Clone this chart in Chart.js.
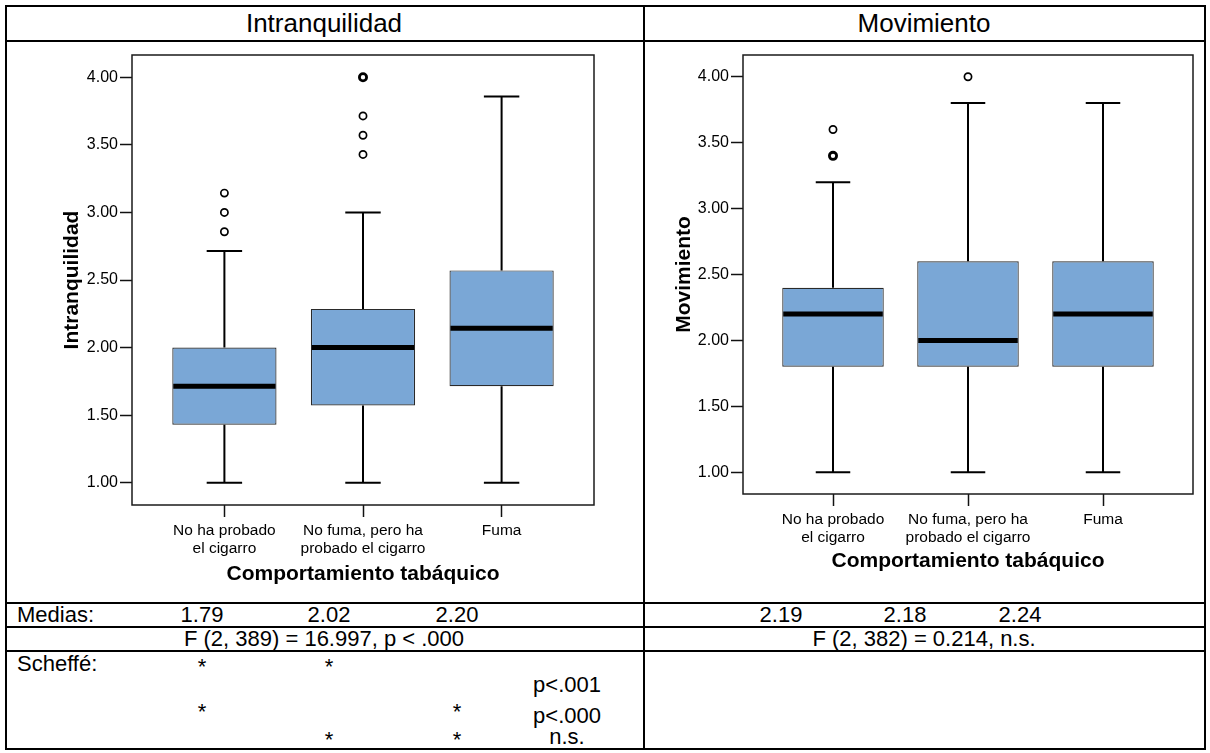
<!DOCTYPE html>
<html lang="es">
<head>
<meta charset="utf-8">
<title>Intranquilidad y Movimiento según comportamiento tabáquico</title>
<script src="https://cdn.jsdelivr.net/npm/chart.js@4.4.1/dist/chart.umd.min.js"></script>
<style>
  html, body { margin: 0; padding: 0; background: #fff; }
  #page { position: relative; width: 1210px; height: 753px; overflow: hidden;
          font-family: 'Liberation Sans', Arial, Helvetica, sans-serif; color: #000; }
  .hl { position: absolute; height: 2px; background: #000; }
  .vl { position: absolute; width: 2px; background: #000; }
  .t  { position: absolute; white-space: nowrap; line-height: 1; transform: translate(-50%, -50%); }
  .tl { position: absolute; white-space: nowrap; line-height: 1; transform: translateY(-50%); }
  canvas { position: absolute; }
</style>
</head>
<body>
<div id="page">
  <canvas id="chartIntra" width="636" height="558" style="left:7px;top:43px;width:636px;height:558px"></canvas>
  <canvas id="chartMov" width="557" height="558" style="left:646px;top:43px;width:557px;height:558px"></canvas>
</div>
<script>
// ---- data ----
const categories = [['No ha probado', 'el cigarro'], ['No fuma, pero ha', 'probado el cigarro'], ['Fuma']];
const yTicks = [1.00, 1.50, 2.00, 2.50, 3.00, 3.50, 4.00];

// Intranquilidad (box plot summaries per group)
const intraMin     = [1.000, 1.000, 1.000];
const intraQ1      = [1.429, 1.571, 1.714];
const intraMedian  = [1.714, 2.000, 2.143];
const intraQ3      = [2.000, 2.286, 2.571];
const intraMax     = [2.714, 3.000, 3.857];
const intraOutliers = [[2.857, 3.000, 3.143], [3.429, 3.571, 3.714, 4.000, 4.000], []];

// Movimiento
const movMin     = [1.0, 1.0, 1.0];
const movQ1      = [1.8, 1.8, 1.8];
const movMedian  = [2.2, 2.0, 2.2];
const movQ3      = [2.4, 2.6, 2.6];
const movMax     = [3.2, 3.8, 3.8];
const movOutliers = [[3.4, 3.4, 3.6], [4.0], []];

// Summary rows
const intraMeans = ['1.79', '2.02', '2.20'];
const movMeans   = ['2.19', '2.18', '2.24'];
const intraAnova = 'F (2, 389) = 16.997, p < .000';
const movAnova   = 'F (2, 382) = 0.214, n.s.';
const scheffeRows = [
  { marks: [1, 1, 0], p: 'p<.001' },
  { marks: [1, 0, 1], p: 'p<.000' },
  { marks: [0, 1, 1], p: 'n.s.' }
];

// ---- table frame and text ----
const page = document.getElementById('page');
function add(cls, css, text) {
  const d = document.createElement('div');
  d.className = cls;
  Object.assign(d.style, css);
  if (text !== undefined) d.textContent = text;
  page.appendChild(d);
  return d;
}
// horizontal rules
[5, 40, 602, 626, 650, 748].forEach(y => add('hl', { left: '5px', top: y + 'px', width: '1201px' }));
// vertical rules
[5, 643, 1204].forEach(x => add('vl', { left: x + 'px', top: '5px', height: '745px' }));

add('t', { left: '324px', top: '23px', fontSize: '26px' }, 'Intranquilidad');
add('t', { left: '924px', top: '23px', fontSize: '26px' }, 'Movimiento');

const colLeft  = [202, 329, 457];
const colRight = [781, 905, 1020];
const rowFont = '22px';
add('tl', { left: '17px', top: '615px', fontSize: rowFont }, 'Medias:');
intraMeans.forEach((m, i) => add('t', { left: colLeft[i] + 'px', top: '615px', fontSize: rowFont }, m));
movMeans.forEach((m, i) => add('t', { left: colRight[i] + 'px', top: '615px', fontSize: rowFont }, m));
add('t', { left: '324px', top: '639px', fontSize: rowFont }, intraAnova);
add('t', { left: '924px', top: '639px', fontSize: rowFont }, movAnova);

add('tl', { left: '17px', top: '664px', fontSize: rowFont }, 'Scheffé:');
const starY = [667, 712, 740];
const pY    = [685, 716, 737];
scheffeRows.forEach((r, k) => {
  r.marks.forEach((m, i) => {
    if (m) add('t', { left: colLeft[i] + 'px', top: starY[k] + 'px', fontSize: rowFont }, '*');
  });
  add('t', { left: '567px', top: pY[k] + 'px', fontSize: rowFont }, r.p);
});

// ---- charts ----
Chart.defaults.font.family = "'Liberation Sans', Arial, Helvetica, sans-serif";
Chart.defaults.color = '#000';

const boxFill = 'rgb(122, 167, 214)';

// plot frame around the chart area
const framePlugin = {
  id: 'plotFrame',
  beforeDatasetsDraw(chart) {
    const { ctx, chartArea: a } = chart;
    ctx.save();
    ctx.strokeStyle = '#1a1a1a';
    ctx.lineWidth = 1.5;
    ctx.strokeRect(a.left, a.top, a.right - a.left, a.bottom - a.top);
    ctx.restore();
  }
};

// whiskers, caps and median bars for each box
const whiskerPlugin = {
  id: 'boxWhiskers',
  afterDatasetsDraw(chart, args, opts) {
    const { ctx, scales: { x, y } } = chart;
    const bars = chart.getDatasetMeta(0).data;
    ctx.save();
    ctx.strokeStyle = '#000';
    bars.forEach((bar, i) => {
      const cx = x.getPixelForValue(i);
      const half = bar.width / 2;
      const cap = bar.width * 0.17;
      const pLo = y.getPixelForValue(opts.min[i]);
      const pHi = y.getPixelForValue(opts.max[i]);
      const pQ1 = y.getPixelForValue(opts.q1[i]);
      const pQ3 = y.getPixelForValue(opts.q3[i]);
      const pMed = y.getPixelForValue(opts.median[i]);
      ctx.lineWidth = 2;
      ctx.beginPath();
      ctx.moveTo(cx, pQ3); ctx.lineTo(cx, pHi);
      ctx.moveTo(cx - cap, pHi); ctx.lineTo(cx + cap, pHi);
      ctx.moveTo(cx, pQ1); ctx.lineTo(cx, pLo);
      ctx.moveTo(cx - cap, pLo); ctx.lineTo(cx + cap, pLo);
      ctx.stroke();
      ctx.lineWidth = 5;
      ctx.beginPath();
      ctx.moveTo(cx - half + 1, pMed); ctx.lineTo(cx + half - 1, pMed);
      ctx.stroke();
    });
    ctx.restore();
  }
};

function outlierPoints(list) {
  const pts = [];
  list.forEach((vals, i) => {
    const counts = new Map();
    vals.forEach(v => counts.set(v, (counts.get(v) || 0) + 1));
    counts.forEach((n, v) => pts.push({ x: i, y: v, n }));
  });
  return pts;
}

function boxChart(id, title, s, lay) {
  return new Chart(document.getElementById(id), {
    type: 'bar',
    data: {
      datasets: [{
        type: 'bar',
        data: s.q1.map((q, i) => ({ x: i, y: [q, s.q3[i]] })),
        backgroundColor: boxFill,
        borderColor: '#2a2a2a',
        borderWidth: 1.2,
        borderSkipped: false,
        barPercentage: 0.752,
        categoryPercentage: 1
      }, {
        type: 'scatter',
        data: outlierPoints(s.outliers),
        pointStyle: 'circle',
        pointRadius: 3.6,
        pointBackgroundColor: '#fff',
        pointBorderColor: '#000',
        pointBorderWidth: c => (c.raw && c.raw.n > 1 ? 2.8 : 1.7)
      }]
    },
    options: {
      responsive: false,
      animation: false,
      devicePixelRatio: 1,
      layout: { padding: lay.padding },
      plugins: {
        legend: { display: false },
        tooltip: { enabled: false },
        boxWhiskers: { min: s.min, q1: s.q1, median: s.median, q3: s.q3, max: s.max }
      },
      scales: {
        x: {
          type: 'linear',
          min: -2 / 3,
          max: 8 / 3,
          offset: false,
          afterBuildTicks: sc => { sc.ticks = categories.map((c, i) => ({ value: i })); },
          afterFit: sc => { sc.height = lay.xHeight; },
          ticks: {
            callback: v => categories[v],
            font: { size: 15.5 },
            color: '#000',
            padding: 4,
            maxRotation: 0,
            autoSkip: false
          },
          grid: { drawOnChartArea: false, drawTicks: true, tickLength: 12, tickColor: '#111', tickWidth: 1.5, offset: false },
          border: { display: false },
          title: { display: true, text: 'Comportamiento tabáquico', font: { size: 21, weight: 'bold' }, color: '#000', padding: 0 }
        },
        y: {
          min: 0.835,
          max: 4.165,
          afterBuildTicks: sc => { sc.ticks = yTicks.map(v => ({ value: v })); },
          afterFit: sc => { sc.width = lay.yWidth; },
          ticks: { callback: v => Number(v).toFixed(2), font: { size: 16 }, color: '#000', padding: 2 },
          grid: { drawOnChartArea: false, drawTicks: true, tickLength: 12, tickColor: '#111', tickWidth: 1.5 },
          border: { display: false },
          title: { display: true, text: title, font: { size: 21, weight: 'bold' }, color: '#000', padding: 0 }
        }
      }
    },
    plugins: [framePlugin, whiskerPlugin]
  });
}

boxChart('chartIntra', 'Intranquilidad',
  { min: intraMin, q1: intraQ1, median: intraMedian, q3: intraQ3, max: intraMax, outliers: intraOutliers },
  { padding: { left: 53, right: 49, top: 12, bottom: 14 }, yWidth: 72, xHeight: 82 });

boxChart('chartMov', 'Movimiento',
  { min: movMin, q1: movQ1, median: movMedian, q3: movQ3, max: movMax, outliers: movOutliers },
  { padding: { left: 26, right: 10, top: 12, bottom: 27 }, yWidth: 71, xHeight: 80 });
</script>
</body>
</html>
